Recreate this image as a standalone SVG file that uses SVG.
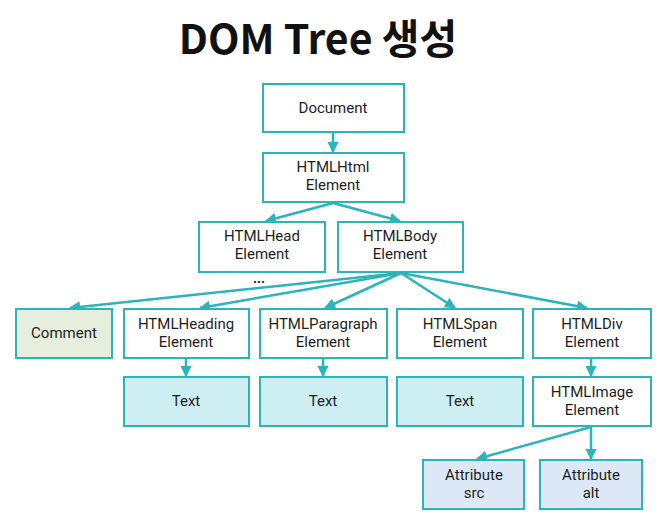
<svg xmlns="http://www.w3.org/2000/svg" width="666" height="528" viewBox="0 0 666 528">
<style>
.b{fill:#ffffff;stroke:#2bb5b8;stroke-width:2}
.t{fill:#cdeff1;stroke:#2bb5b8;stroke-width:2}
.c{fill:#e6eedd;stroke:#2bb5b8;stroke-width:2}
.a{fill:#dde8f6;stroke:#2bb5b8;stroke-width:2}
text{font-family:Roboto,"Noto Sans","Noto Sans CJK KR",sans-serif;font-size:15px;fill:#1e1e1e;text-anchor:middle}
.title{font-family:"Noto Sans CJK KR","Noto Sans",sans-serif;font-size:41px;font-weight:bold;fill:#111}
.e{fill:none;stroke:#2bb5b8;stroke-width:2.5}
</style>
<defs>
<marker id="ah" viewBox="0 0 10 10" refX="9" refY="5" markerWidth="4.5" markerHeight="4.5" orient="auto" markerUnits="strokeWidth">
<path d="M0,0L10,5L0,10z" fill="#2bb5b8"/>
</marker>
</defs>
<rect width="666" height="528" fill="#ffffff"/>
<text class="title" x="318" y="54">DOM Tree 생성</text>
<g id="connectors">
<line class="e" x1="333" y1="133" x2="333" y2="152" marker-end="url(#ah)"/>
<line class="e" x1="333" y1="203" x2="266" y2="221" marker-end="url(#ah)"/>
<line class="e" x1="333" y1="203" x2="400" y2="221" marker-end="url(#ah)"/>
<line class="e" x1="401" y1="273" x2="70" y2="308" marker-end="url(#ah)"/>
<line class="e" x1="401" y1="273" x2="200" y2="308" marker-end="url(#ah)"/>
<line class="e" x1="401" y1="273" x2="325" y2="308" marker-end="url(#ah)"/>
<line class="e" x1="401" y1="273" x2="455" y2="308" marker-end="url(#ah)"/>
<line class="e" x1="401" y1="273" x2="587" y2="308" marker-end="url(#ah)"/>
<line class="e" x1="186" y1="359" x2="186" y2="376" marker-end="url(#ah)"/>
<line class="e" x1="323" y1="359" x2="323" y2="376" marker-end="url(#ah)"/>
<line class="e" x1="591" y1="359" x2="591" y2="376" marker-end="url(#ah)"/>
<line class="e" x1="591" y1="427" x2="477" y2="459" marker-end="url(#ah)"/>
<line class="e" x1="591" y1="427" x2="591" y2="459" marker-end="url(#ah)"/>
</g>
<g id="document"><rect class="b" x="263" y="84" width="141" height="48"/><text x="333" y="113">Document</text></g>
<g id="htmlhtml"><rect class="b" x="263" y="153" width="141" height="49"/><text x="333" y="172">HTMLHtml</text><text x="333" y="190">Element</text></g>
<g id="htmlhead"><rect class="b" x="199" y="222" width="126" height="50"/><text x="262" y="241">HTMLHead</text><text x="262" y="259">Element</text><text x="259" y="283" style="font-weight:bold;font-size:14px">...</text></g>
<g id="htmlbody"><rect class="b" x="338" y="222" width="125" height="50"/><text x="400" y="241">HTMLBody</text><text x="400" y="259">Element</text></g>
<g id="comment"><rect class="c" x="16" y="309" width="96" height="49"/><text x="64" y="338">Comment</text></g>
<g id="heading"><rect class="b" x="124" y="309" width="125" height="49"/><text x="186" y="329">HTMLHeading</text><text x="186" y="347">Element</text></g>
<g id="paragraph"><rect class="b" x="260" y="309" width="127" height="49"/><text x="323" y="329">HTMLParagraph</text><text x="323" y="347">Element</text></g>
<g id="span"><rect class="b" x="397" y="309" width="126" height="49"/><text x="460" y="329">HTMLSpan</text><text x="460" y="347">Element</text></g>
<g id="div"><rect class="b" x="533" y="309" width="118" height="49"/><text x="592" y="329">HTMLDiv</text><text x="592" y="347">Element</text></g>
<g id="text1"><rect class="t" x="124" y="377" width="125" height="49"/><text x="186" y="406">Text</text></g>
<g id="text2"><rect class="t" x="260" y="377" width="127" height="49"/><text x="323" y="406">Text</text></g>
<g id="text3"><rect class="t" x="397" y="377" width="126" height="49"/><text x="460" y="406">Text</text></g>
<g id="image"><rect class="b" x="533" y="377" width="118" height="49"/><text x="592" y="397">HTMLImage</text><text x="592" y="415">Element</text></g>
<g id="src"><rect class="a" x="423" y="460" width="101" height="49"/><text x="474" y="480">Attribute</text><text x="474" y="498">src</text></g>
<g id="alt"><rect class="a" x="540" y="460" width="102" height="49"/><text x="591" y="480">Attribute</text><text x="591" y="498">alt</text></g>
</svg>
